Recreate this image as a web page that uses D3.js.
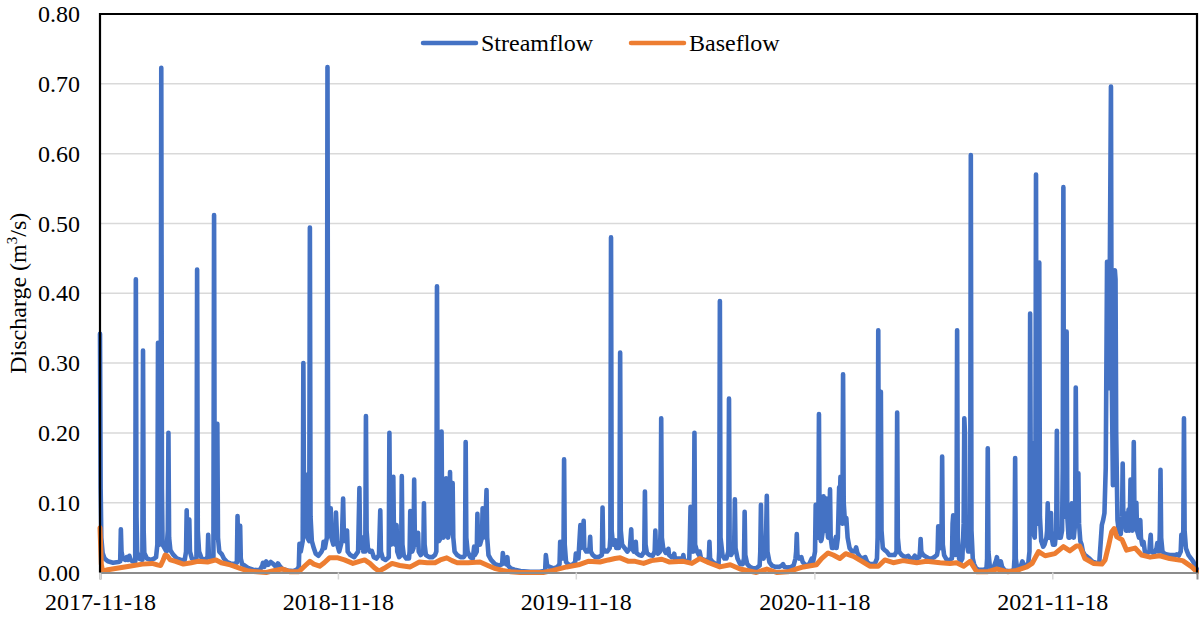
<!DOCTYPE html>
<html>
<head>
<meta charset="utf-8">
<script src="https://cdn.jsdelivr.net/npm/d3@7"></script>
<style>
  html, body { margin: 0; padding: 0; background: #fff; }
  svg { display: block; font-family: "Liberation Serif", "Times New Roman", serif; }
  text { font-family: "Liberation Serif", "Times New Roman", serif; fill: #000; }
</style>
</head>
<body>
<svg id="chart" width="1199" height="618"></svg>
<script>
// Daily discharge record, values in m3/s. Points are [day of record, discharge],
// day 0 being the first day of the record.
const recordStart = "2017-11-18";
const recordLength = 1683;

const streamflow = [
  [0,0.342],[1,0.12],[2,0.05],[4,0.028],[7,0.02],[12,0.016],[20,0.014],[28,0.015],[31,0.016],[32,0.062],[33,0.03],[35,0.02],[39,0.018],[41,0.022],[43,0.018],[45,0.024],[47,0.018],[50,0.016],[54,0.015],[55,0.42],[56,0.08],[57,0.03],[60,0.02],[65,0.018],[66,0.318],[67,0.06],[68,0.028],[72,0.02],[78,0.018],[83,0.02],[86,0.022],[88,0.04],[89,0.329],[90,0.1],[92,0.04],[93,0.06],[94,0.723],[95,0.12],[96,0.04],[99,0.035],[102,0.03],[104,0.06],[105,0.2],[106,0.05],[108,0.032],[112,0.026],[118,0.02],[124,0.018],[130,0.018],[132,0.03],[133,0.089],[134,0.04],[136,0.035],[137,0.076],[138,0.03],[141,0.02],[145,0.018],[148,0.02],[149,0.434],[150,0.06],[152,0.03],[156,0.02],[161,0.018],[165,0.022],[166,0.054],[167,0.025],[171,0.02],[174,0.022],[175,0.512],[176,0.07],[178,0.05],[179,0.07],[180,0.213],[181,0.05],[183,0.03],[187,0.026],[190,0.02],[195,0.015],[200,0.013],[205,0.012],[210,0.014],[211,0.081],[212,0.03],[214,0.035],[215,0.067],[216,0.02],[218,0.012],[222,0.01],
  [228,0.006],[235,0.004],[245,0.003],[249,0.01],[250,0.014],[252,0.008],[255,0.016],[258,0.011],[262,0.015],[266,0.012],[270,0.008],[273,0.013],[276,0.009],[280,0.005],[288,0.003],[296,0.002],[302,0.004],[305,0.008],[306,0.041],[308,0.03],[311,0.045],[312,0.3],[313,0.09],[315,0.06],[316,0.1],[317,0.14],[318,0.05],[321,0.045],[322,0.494],[323,0.08],[325,0.045],[328,0.035],[331,0.027],[335,0.024],[340,0.03],[342,0.035],[343,0.044],[345,0.035],[348,0.05],[349,0.724],[350,0.1],[352,0.06],[353,0.07],[354,0.092],[355,0.05],[358,0.04],[361,0.05],[362,0.086],[364,0.04],[367,0.03],[371,0.045],[373,0.106],[374,0.06],[376,0.045],[378,0.055],[379,0.06],[380,0.03],[384,0.025],[390,0.022],[396,0.03],[398,0.121],[399,0.04],[402,0.035],[403,0.05],[404,0.03],[407,0.03],[408,0.224],[409,0.06],[411,0.035],[414,0.03],[417,0.031],[420,0.022],[424,0.02],[428,0.025],[430,0.089],[431,0.03],[434,0.02],[438,0.018],[443,0.022],[444,0.2],[445,0.06],[447,0.04],[449,0.05],[450,0.137],[451,0.05],[453,0.04],[455,0.068],[456,0.03],[459,0.022],[462,0.025],[463,0.138],[464,0.04],[466,0.025],[470,0.02],[474,0.02],[475,0.03],[476,0.088],[477,0.04],[479,0.03],[481,0.035],[482,0.133],[483,0.05],[485,0.04],[487,0.045],[488,0.057],[489,0.03],[492,0.025],[496,0.03],[497,0.099],[498,0.04],[500,0.025],[505,0.022],[510,0.022],[514,0.025],[516,0.03],[517,0.41],[518,0.06],[520,0.045],[523,0.05],[524,0.202],[525,0.06],[527,0.05],[530,0.06],[531,0.135],[532,0.06],[534,0.05],[536,0.06],[537,0.144],[538,0.06],[540,0.07],[541,0.128],[542,0.05],[544,0.03],[548,0.025],[553,0.022],[558,0.022],[560,0.025],[561,0.187],[562,0.05],[564,0.03],[568,0.022],[572,0.02],[574,0.037],[575,0.025],[578,0.03],[579,0.084],[580,0.04],[583,0.04],[586,0.05],[587,0.092],[588,0.05],[591,0.06],[592,0.09],[593,0.118],[594,0.05],[596,0.025],[600,0.018],[606,0.012],[612,0.01],[617,0.012],[618,0.028],[620,0.015],[623,0.012],[625,0.022],[626,0.01],[630,0.006],[636,0.004],[645,0.002],[660,0.001],[675,0.001],[681,0.002],
  [683,0.004],[684,0.025],[686,0.01],[690,0.008],[696,0.006],[702,0.008],[705,0.012],[706,0.044],[707,0.02],[711,0.02],[712,0.162],[713,0.04],[715,0.015],[718,0.012],[722,0.01],[726,0.012],[729,0.015],[730,0.027],[731,0.02],[734,0.02],[737,0.068],[738,0.035],[740,0.04],[742,0.074],[743,0.035],[746,0.03],[748,0.03],[751,0.035],[752,0.051],[753,0.03],[756,0.025],[760,0.022],[765,0.022],[770,0.025],[771,0.093],[772,0.035],[775,0.03],[778,0.03],[782,0.035],[783,0.05],[784,0.48],[785,0.06],[787,0.04],[790,0.04],[791,0.046],[792,0.035],[796,0.035],[797,0.05],[798,0.315],[799,0.06],[801,0.04],[805,0.035],[809,0.03],[813,0.035],[815,0.062],[816,0.035],[819,0.03],[822,0.044],[823,0.028],[827,0.025],[831,0.024],[835,0.03],[836,0.116],[837,0.04],[839,0.028],[843,0.025],[848,0.024],[851,0.03],[852,0.06],[853,0.03],[856,0.027],[859,0.03],[860,0.06],[861,0.221],[862,0.05],[864,0.035],[868,0.028],[871,0.03],[872,0.034],[873,0.025],[877,0.022],[880,0.022],[881,0.027],[882,0.02],[886,0.02],[890,0.02],[894,0.02],[895,0.025],[896,0.018],[900,0.016],[904,0.018],[905,0.05],[906,0.094],[907,0.04],[910,0.03],[911,0.06],[912,0.2],[913,0.04],[916,0.03],[919,0.025],[920,0.03],[922,0.02],[927,0.018],[931,0.018],[934,0.02],[935,0.044],[936,0.02],[940,0.015],[945,0.012],[949,0.012],[950,0.03],[951,0.389],[952,0.05],[955,0.025],[958,0.02],[961,0.02],[964,0.03],[965,0.249],[966,0.04],[968,0.025],[971,0.03],[973,0.04],[974,0.105],[975,0.035],[978,0.02],[982,0.012],[986,0.012],[988,0.02],[989,0.087],[990,0.025],[993,0.012],[997,0.008],[1002,0.006],[1007,0.006],[1012,0.01],[1013,0.03],[1014,0.097],[1015,0.03],[1018,0.02],[1021,0.03],[1022,0.06],[1023,0.11],[1024,0.03],[1027,0.015],[1031,0.01],[1036,0.008],[1042,0.008],[1046,0.01],[1048,0.012],[1050,0.008],[1055,0.007],[1060,0.008],[1064,0.01],[1067,0.02],[1068,0.03],[1069,0.055],[1070,0.025],[1073,0.02],[1076,0.022],[1078,0.015],[1083,0.01],[1088,0.012],[1092,0.02],[1094,0.015],[1097,0.03],[1098,0.097],[1099,0.05],[1102,0.05],[1103,0.227],[1104,0.06],[1106,0.045],[1107,0.047],[1109,0.06],[1110,0.109],[1111,0.07],[1113,0.06],[1115,0.106],[1116,0.06],[1117,0.05],[1119,0.07],[1120,0.119],[1121,0.05],[1123,0.035],[1125,0.035],[1127,0.04],[1129,0.051],[1130,0.035],[1132,0.05],[1134,0.122],[1135,0.1],[1136,0.137],[1137,0.08],[1139,0.07],[1140,0.284],[1141,0.1],[1143,0.07],[1145,0.078],[1147,0.05],[1150,0.035],[1154,0.03],[1158,0.03],[1160,0.036],[1162,0.028],[1166,0.022],[1170,0.02],[1174,0.022],[1177,0.015],[1181,0.012],[1185,0.012],[1189,0.013],[1192,0.02],[1193,0.05],[1194,0.347],[1195,0.06],[1197,0.05],[1198,0.259],[1199,0.06],[1201,0.035],[1204,0.032],[1207,0.03],[1211,0.025],[1215,0.025],[1219,0.025],[1222,0.03],[1223,0.229],[1224,0.05],[1226,0.03],[1230,0.025],[1235,0.022],[1240,0.024],[1243,0.02],[1247,0.02],[1250,0.024],[1253,0.02],[1257,0.022],[1258,0.03],[1259,0.048],[1260,0.03],[1263,0.025],[1268,0.022],[1272,0.02],[1276,0.02],[1280,0.022],[1284,0.025],[1285,0.03],[1286,0.066],[1287,0.04],[1289,0.035],[1291,0.04],[1292,0.166],[1293,0.04],[1295,0.025],[1299,0.018],[1303,0.018],[1307,0.02],[1308,0.07],[1309,0.082],[1310,0.04],[1312,0.025],[1314,0.05],[1315,0.347],[1316,0.05],[1318,0.02],[1320,0.015],[1323,0.02],[1325,0.07],[1326,0.221],[1327,0.2],[1328,0.08],[1330,0.04],[1332,0.03],[1334,0.03],[1335,0.05],[1336,0.598],[1337,0.06],[1339,0.02],[1341,0.012],[1344,0.006],[1348,0.004],[1352,0.004],[1356,0.004],[1360,0.006],[1361,0.02],[1362,0.178],[1363,0.03],[1365,0.01],[1368,0.005],[1372,0.01],[1375,0.018],[1376,0.022],[1378,0.01],[1380,0.012],[1382,0.016],[1384,0.008],[1388,0.003],[1393,0.002],[1398,0.002],[1402,0.004],[1403,0.02],[1404,0.164],[1405,0.02],[1407,0.006],[1410,0.004],[1413,0.01],[1415,0.016],[1417,0.012],[1420,0.01],[1424,0.012],[1426,0.03],[1427,0.371],[1428,0.12],[1430,0.185],[1431,0.06],[1434,0.05],[1435,0.08],[1436,0.57],[1437,0.1],[1439,0.07],[1440,0.15],[1441,0.444],[1442,0.08],[1444,0.045],[1447,0.037],[1449,0.04],[1452,0.05],[1453,0.06],[1454,0.099],[1455,0.05],[1457,0.05],[1459,0.085],[1460,0.05],[1462,0.04],[1465,0.04],[1467,0.06],[1468,0.203],[1469,0.06],[1471,0.05],[1474,0.05],[1476,0.06],[1477,0.15],[1478,0.552],[1479,0.1],[1481,0.08],[1482,0.12],[1483,0.345],[1484,0.08],[1486,0.05],[1488,0.05],[1490,0.07],[1491,0.099],[1492,0.06],[1494,0.05],[1496,0.07],[1497,0.265],[1498,0.12],[1500,0.1],[1501,0.142],[1502,0.07],[1504,0.045],[1506,0.04],[1508,0.03],[1511,0.025],[1514,0.023],[1518,0.02],[1521,0.017],[1524,0.015],[1528,0.014],[1533,0.013],[1535,0.04],[1537,0.068],[1539,0.075],[1541,0.085],[1543,0.15],[1545,0.445],[1546,0.3],[1548,0.264],[1549,0.4],[1551,0.696],[1552,0.3],[1554,0.125],[1555,0.3],[1556,0.425],[1557,0.433],[1558,0.42],[1559,0.2],[1561,0.075],[1563,0.06],[1566,0.055],[1568,0.08],[1569,0.156],[1570,0.08],[1572,0.085],[1574,0.06],[1576,0.06],[1577,0.07],[1578,0.09],[1579,0.06],[1580,0.08],[1581,0.133],[1582,0.07],[1584,0.06],[1585,0.09],[1586,0.187],[1587,0.09],[1589,0.08],[1590,0.1],[1591,0.06],[1594,0.05],[1596,0.075],[1597,0.05],[1599,0.04],[1601,0.044],[1603,0.03],[1607,0.028],[1610,0.03],[1611,0.045],[1612,0.054],[1613,0.03],[1616,0.028],[1619,0.03],[1621,0.035],[1622,0.042],[1623,0.03],[1625,0.03],[1626,0.06],[1627,0.147],[1628,0.05],[1630,0.03],[1633,0.027],[1637,0.026],[1641,0.025],[1645,0.025],[1649,0.025],[1652,0.026],[1655,0.024],[1658,0.03],[1659,0.054],[1660,0.04],[1662,0.06],[1663,0.221],[1664,0.06],[1666,0.035],[1667,0.032],[1670,0.025],[1674,0.02],[1677,0.016],[1680,0.01],[1683,0.004]
];

const baseflow = [
  [0,0.064],[2,0.012],[4,0.002],[12,0.004],[26,0.006],[45,0.009],[65,0.012],[80,0.013],[88,0.011],[93,0.01],[97,0.018],[100,0.025],[103,0.024],[108,0.018],[116,0.016],[128,0.012],[140,0.014],[150,0.016],[165,0.015],[178,0.018],[186,0.014],[200,0.011],[215,0.006],[228,0.002],[240,0.001],[255,0.0],[268,0.003],[280,0.005],[292,0.001],[305,0.001],[315,0.01],[322,0.016],[328,0.012],[337,0.009],[344,0.014],[352,0.021],[365,0.021],[375,0.018],[388,0.013],[398,0.016],[406,0.018],[414,0.013],[422,0.006],[428,0.002],[436,0.006],[448,0.013],[460,0.01],[476,0.008],[490,0.015],[502,0.014],[514,0.014],[522,0.018],[532,0.021],[540,0.017],[548,0.014],[565,0.014],[583,0.015],[595,0.01],[605,0.006],[618,0.003],[630,0.001],[645,0.0],[680,0.0],[695,0.003],[716,0.008],[734,0.011],[749,0.016],[767,0.015],[780,0.018],[790,0.02],[798,0.021],[811,0.016],[821,0.016],[834,0.013],[846,0.017],[862,0.019],[874,0.015],[895,0.016],[908,0.013],[920,0.02],[934,0.014],[951,0.008],[967,0.011],[982,0.005],[1007,0.0],[1023,0.005],[1038,0.0],[1055,0.001],[1068,0.005],[1079,0.008],[1099,0.011],[1107,0.02],[1117,0.028],[1125,0.025],[1135,0.02],[1144,0.027],[1156,0.023],[1169,0.016],[1181,0.009],[1194,0.009],[1204,0.018],[1217,0.014],[1232,0.017],[1253,0.014],[1268,0.016],[1289,0.014],[1304,0.013],[1314,0.014],[1325,0.009],[1335,0.016],[1345,0.001],[1361,0.001],[1376,0.005],[1393,0.001],[1406,0.003],[1422,0.008],[1430,0.013],[1440,0.03],[1450,0.024],[1465,0.027],[1478,0.037],[1488,0.031],[1498,0.038],[1503,0.038],[1505,0.034],[1511,0.02],[1524,0.013],[1537,0.012],[1542,0.018],[1547,0.037],[1552,0.058],[1556,0.063],[1560,0.051],[1568,0.047],[1575,0.032],[1588,0.035],[1598,0.025],[1611,0.022],[1626,0.024],[1641,0.02],[1661,0.017],[1675,0.008],[1683,0.001]
];

const yTicks = [0, 0.1, 0.2, 0.3, 0.4, 0.5, 0.6, 0.7, 0.8];
const xTickDates = ["2017-11-18", "2018-11-18", "2019-11-18", "2020-11-18", "2021-11-18"];
const seriesNames = ["Streamflow", "Baseflow"];
const seriesColors = ["#4472C4", "#ED7D31"];

const FONT = "'Liberation Serif', 'Times New Roman', serif";

// ---- layout ----
const svg = d3.select("#chart");
const plot = { left: 100, right: 1197, top: 14, bottom: 572.5 };

const parse = d3.utcParse("%Y-%m-%d");
const t0 = parse(recordStart);
const toDate = d => d3.utcDay.offset(t0, d);

const x = d3.scaleUtc()
  .domain([t0, toDate(recordLength)])
  .range([plot.left, plot.right]);
const y = d3.scaleLinear()
  .domain([0, 0.8])
  .range([plot.bottom, plot.top]);

svg.append("rect").attr("width", 1199).attr("height", 618).attr("fill", "#fff");

// horizontal gridlines
svg.append("g")
  .selectAll("line")
  .data(yTicks.filter(v => v > 0 && v < 0.8))
  .join("line")
  .attr("x1", plot.left).attr("x2", plot.right)
  .attr("y1", d => y(d)).attr("y2", d => y(d))
  .attr("stroke", "#d9d9d9").attr("stroke-width", 1.5);

// series lines
const line = d3.line()
  .x(d => x(toDate(d[0])))
  .y(d => y(d[1]))
  .curve(d3.curveLinear);

[streamflow, baseflow].forEach((data, i) => {
  svg.append("path")
    .datum(data)
    .attr("d", line)
    .attr("fill", "none")
    .attr("stroke", seriesColors[i])
    .attr("stroke-width", i === 0 ? 4.6 : 5)
    .attr("stroke-linejoin", "round")
    .attr("stroke-linecap", "round");
});

// bottom axis
const xAxis = d3.axisBottom(x)
  .tickValues(xTickDates.map(parse))
  .tickFormat(d3.utcFormat("%Y-%m-%d"))
  .tickSize(7)
  .tickPadding(13);
const gx = svg.append("g")
  .attr("transform", `translate(0,${plot.bottom})`)
  .call(xAxis)
  .attr("font-family", FONT);
gx.select(".domain").attr("stroke", "#8c8c8c").attr("stroke-width", 2);
gx.selectAll(".tick line").attr("stroke", "#d9d9d9").attr("stroke-width", 1.5);
gx.selectAll(".tick text")
  .attr("font-size", 24)
  .attr("font-family", FONT)
  .attr("fill", "#000");

// left axis labels
const yAxis = d3.axisLeft(y)
  .tickValues(yTicks)
  .tickFormat(d3.format(".2f"))
  .tickSize(0)
  .tickPadding(20);
const gy = svg.append("g")
  .attr("transform", `translate(${plot.left},0)`)
  .call(yAxis)
  .attr("font-family", FONT);
gy.select(".domain").remove();
gy.selectAll(".tick text")
  .attr("font-size", 24)
  .attr("font-family", FONT)
  .attr("fill", "#000");

// plot frame: top, left and right edges
svg.append("path")
  .attr("d", `M${plot.left},${plot.bottom} V${plot.top} H${plot.right} V${plot.bottom}`)
  .attr("fill", "none")
  .attr("stroke", "#000")
  .attr("stroke-width", 2.2);

// axis title
const title = svg.append("text")
  .attr("transform", `translate(26,${(plot.top + plot.bottom) / 2}) rotate(-90)`)
  .attr("text-anchor", "middle")
  .attr("font-family", FONT)
  .attr("font-size", 24);
title.append("tspan").text("Discharge (m");
title.append("tspan").attr("font-size", 15).attr("dy", -9).text("3");
title.append("tspan").attr("dy", 9).text("/s)");

// legend
const legendItems = [
  { x: 423, name: seriesNames[0], color: seriesColors[0] },
  { x: 631, name: seriesNames[1], color: seriesColors[1] }
];
const lg = svg.append("g");
legendItems.forEach(it => {
  lg.append("line")
    .attr("x1", it.x).attr("x2", it.x + 53)
    .attr("y1", 43).attr("y2", 43)
    .attr("stroke", it.color).attr("stroke-width", 4.5)
    .attr("stroke-linecap", "round");
  lg.append("text")
    .attr("x", it.x + 58).attr("y", 51)
    .attr("font-family", FONT)
    .attr("font-size", 24)
    .text(it.name);
});
</script>
</body>
</html>
